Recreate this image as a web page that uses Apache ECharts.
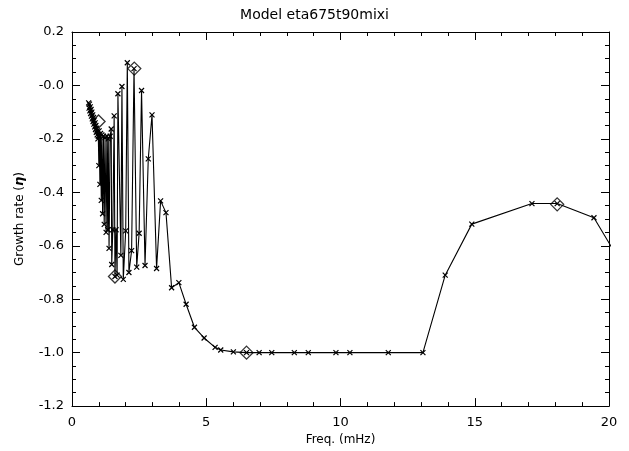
<!DOCTYPE html>
<html><head><meta charset="utf-8">
<script src="https://cdn.jsdelivr.net/npm/echarts@6/dist/echarts.min.js"></script>
<style>html,body{margin:0;padding:0;background:#fff}#c{width:629px;height:451px}</style>
</head><body><div id="c"></div>
<script>
var freq = [0.62,0.635,0.65,0.665,0.68,0.695,0.71,0.725,0.74,0.755,0.77,0.785,0.80,0.815,0.83,0.845,0.86,0.875,0.89,0.905,0.92,0.935,0.95,0.965,0.98,
  1.00,1.01,1.04,1.06,1.09,1.11,1.14,1.17,1.20,1.23,1.27,1.30,1.33,1.35,1.38,1.42,1.46,1.48,1.52,1.57,1.60,1.64,1.68,1.71,1.82,1.86,1.91,2.00,2.06,2.12,2.22,2.31,2.41,2.50,2.59,2.72,2.84,2.98,3.15,
  3.30,3.50,3.71,3.98,4.25,4.56,4.92,5.33,5.54,6.01,6.50,6.97,7.44,8.28,8.80,9.83,10.35,11.78,13.07,13.90,14.89,17.13,18.07,19.44,20.6];
var growth = [-0.065,-0.085,-0.07,-0.095,-0.08,-0.105,-0.09,-0.115,-0.10,-0.125,-0.11,-0.135,-0.12,-0.145,-0.13,-0.155,-0.14,-0.165,-0.15,-0.175,-0.16,-0.185,-0.17,-0.20,-0.19,
  -0.30,-0.17,-0.37,-0.18,-0.43,-0.185,-0.48,-0.19,-0.52,-0.195,-0.55,-0.19,-0.54,-0.2,-0.61,-0.19,-0.163,-0.67,-0.54,-0.114,-0.715,-0.54,-0.71,-0.031,-0.636,-0.004,-0.726,-0.544,0.085,-0.70,-0.618,0.063,-0.68,-0.553,-0.019,-0.674,-0.275,-0.11,-0.685,
  -0.432,-0.476,-0.757,-0.738,-0.819,-0.905,-0.945,-0.98,-0.99,-0.997,-1.0,-1.0,-1.0,-1.0,-1.0,-1.0,-1.0,-1.0,-1.0,-0.71,-0.519,-0.442,-0.442,-0.495,-0.69];
var markFreq = [0.99,1.60,2.32,6.50,18.07];
var markGrowth = [-0.135,-0.715,0.063,-1.0,-0.445];
var xTicks = [0,5,10,15,20];
var yTicks = [-1.2,-1.0,-0.8,-0.6,-0.4,-0.2,0,0.2];

var lineData = freq.map(function(f,i){return [f,growth[i]];});
var markData = markFreq.map(function(f,i){return [f,markGrowth[i]];});
var font = 'DejaVu Sans';
var xBase = {type:'value',min:xTicks[0],max:xTicks[xTicks.length-1],interval:5,
  axisLine:{onZero:false,lineStyle:{color:'#000',width:1}},
  axisTick:{inside:true,length:8,lineStyle:{color:'#000'}},
  minorTick:{show:true,splitNumber:5,length:4,lineStyle:{color:'#000'}},
  splitLine:{show:false}};
var yBase = {type:'value',min:yTicks[0],max:yTicks[yTicks.length-1],interval:0.2,
  axisLine:{onZero:false,lineStyle:{color:'#000',width:1}},
  axisTick:{inside:true,length:8,lineStyle:{color:'#000'}},
  minorTick:{show:true,splitNumber:4,length:4,lineStyle:{color:'#000'}},
  splitLine:{show:false}};
function clone(o,extra){var r=JSON.parse(JSON.stringify(o));for(var k in extra)r[k]=extra[k];return r;}
var chart = echarts.init(document.getElementById('c'),null,{renderer:'canvas'});
chart.setOption({
  animation:false,
  backgroundColor:'#fff',
  title:{text:'Model eta675t90mixi',left:'center',top:3,textStyle:{fontFamily:font,fontSize:14,fontWeight:'normal',color:'#000'}},
  grid:{left:72,right:20,top:32,bottom:42},
  xAxis:[clone(xBase,{position:'bottom',name:'Freq. (mHz)',nameLocation:'middle',nameGap:23,
      nameTextStyle:{fontFamily:font,fontSize:12,color:'#000'},
      axisLabel:{show:true,margin:10,fontFamily:font,fontSize:13,color:'#000',formatter:function(v){return String(v);}}}),
    clone(xBase,{position:'top',axisLabel:{show:false}})],
  yAxis:[clone(yBase,{position:'left',name:'Growth rate ({e|η})',nameLocation:'middle',nameGap:46,
      nameTextStyle:{fontFamily:font,fontSize:12,color:'#000',rich:{e:{fontFamily:font,fontSize:13,fontWeight:'bold',fontStyle:'italic',color:'#000'}}},
      axisLabel:{show:true,margin:8,fontFamily:font,fontSize:13,color:'#000',formatter:function(v){var s=Math.abs(v)<1e-9?'-0.0':v.toFixed(1);return s;}}}),
    clone(yBase,{position:'right',axisLabel:{show:false}})],
  series:[
    {type:'line',data:lineData,xAxisIndex:0,yAxisIndex:0,clip:true,
     symbol:'path://M0,0L10,10M10,0L0,10',symbolSize:5,showAllSymbol:true,
     lineStyle:{color:'#000',width:1.1},
     itemStyle:{color:'#000',borderColor:'#000',borderWidth:1.2}},
    {type:'scatter',data:markData,xAxisIndex:0,yAxisIndex:0,symbol:'diamond',symbolSize:[13,13],
     itemStyle:{color:'rgba(0,0,0,0)',borderColor:'#000',borderWidth:1.3}}
  ]
});
</script></body></html>
